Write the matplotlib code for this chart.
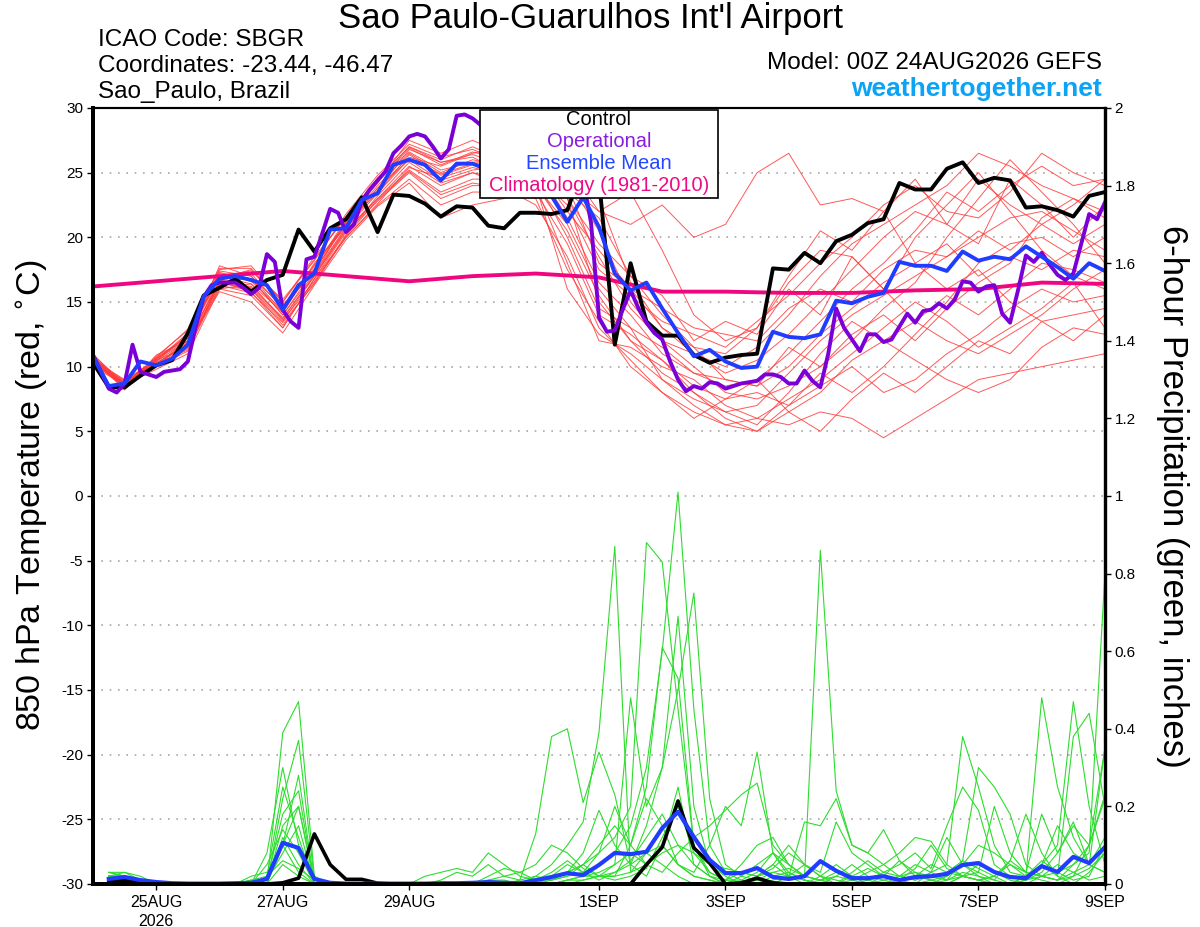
import numpy as np
import pandas as pd
import matplotlib
matplotlib.use('Agg')
import matplotlib.pyplot as plt
from matplotlib.patches import Rectangle

plt.rcParams['font.family'] = ['Liberation Sans', 'DejaVu Sans']
plt.rcParams['axes.unicode_minus'] = False

# ---- time axes (model run 00Z 24AUG2026) ----
t6 = pd.date_range('2026-08-24 00:00', '2026-09-09 00:00', freq='6h')    # 65 pts
t3 = pd.date_range('2026-08-24 00:00', '2026-09-09 00:00', freq='3h')    # 129 pts
t12 = pd.date_range('2026-08-24 00:00', '2026-09-09 00:00', freq='12h')  # 33 pts
t24 = pd.date_range('2026-08-24 00:00', '2026-09-09 00:00', freq='24h')  # 17 pts
tp = t6[1:]                                                              # 6-h precip, 64 pts

tick_days = ['2026-08-25', '2026-08-27', '2026-08-29', '2026-09-01',
             '2026-09-03', '2026-09-05', '2026-09-07', '2026-09-09']
tick_labels = ['25AUG\n2026', '27AUG', '29AUG', '1SEP', '3SEP', '5SEP', '7SEP', '9SEP']

# ---- 850 hPa temperature (C) ----
control_t = [10.3, 8.4, 8.4, 9.3, 10.1, 10.5, 12.6, 15.5, 16.1, 16.8, 15.8, 16.7, 17.1,
             20.6, 18.9, 20.7, 21.4, 23.1, 20.4, 23.3, 23.2, 22.6, 21.6, 22.4, 22.3,
             20.9, 20.7, 21.9, 21.9, 21.8, 22.1, 25.5, 24.5, 11.7, 18.0, 13.5, 12.4,
             12.4, 10.9, 10.3, 10.7, 10.9, 11.0, 17.6, 17.5, 18.8, 18.0, 19.7, 20.2,
             21.1, 21.4, 24.2, 23.7, 23.7, 25.3, 25.8, 24.2, 24.6, 24.4, 22.3, 22.4,
             22.1, 21.6, 23.2, 23.5]

mean_t = [10.8, 8.5, 8.7, 10.4, 10.1, 10.6, 11.7, 15.4, 16.8, 17.0, 16.7, 16.3, 14.4,
          16.3, 17.2, 20.6, 20.7, 22.9, 23.4, 25.6, 26.0, 25.6, 24.4, 25.7, 25.7,
          25.2, 24.8, 24.5, 24.2, 23.2, 21.2, 23.1, 20.8, 17.2, 15.9, 16.5, 14.5,
          12.6, 10.8, 11.3, 10.4, 9.9, 10.0, 12.7, 12.3, 12.2, 12.5, 15.1, 14.9,
          15.4, 15.7, 18.1, 17.8, 17.8, 17.4, 18.9, 18.2, 18.5, 18.3, 19.3, 18.5,
          17.7, 16.8, 18.0, 17.4]

oper_t = [10.9, 9.6, 8.3, 8.0, 8.7, 11.7, 9.6, 9.4, 9.2, 9.6, 9.7, 9.8, 10.4, 13.1,
          15.4, 16.3, 16.5, 16.5, 16.5, 16.1, 15.6, 16.1, 18.7, 18.1, 14.4, 13.5, 13.0,
          18.3, 18.5, 20.3, 22.2, 21.9, 20.4, 21.0, 22.8, 23.7, 24.4, 25.1, 26.5, 27.1,
          27.8, 28.0, 27.8, 27.0, 26.1, 26.8, 29.4, 29.5, 29.2, 28.7, 28.5, 28.0, 27.5,
          27.5, 27.0, 26.5, 26.5, 26.0, 25.5, 25.0, 25.0, 24.8, 24.5, 21.1, 13.8, 12.7,
          12.8, 14.4, 15.9, 14.5, 13.4, 12.6, 12.1, 10.4, 9.0, 8.1, 8.5, 8.3, 8.8, 8.7,
          8.3, 8.5, 8.7, 8.8, 8.9, 9.4, 9.4, 9.2, 8.7, 8.7, 9.7, 8.9, 8.4, 11.0, 14.5,
          13.0, 12.1, 11.2, 12.5, 12.5, 11.9, 12.1, 13.1, 14.1, 13.4, 14.3, 14.4, 14.9,
          14.5, 15.2, 16.6, 16.5, 15.8, 16.2, 16.3, 14.1, 13.4, 15.9, 18.6, 18.1, 18.8,
          17.9, 17.1, 16.7, 17.2, 19.5, 21.8, 21.4, 22.7]

clim_t = [16.2, 16.6, 17.0, 17.4, 17.0, 16.6, 17.0, 17.2, 16.9, 15.8, 15.8, 15.7,
          15.7, 15.9, 16.0, 16.5, 16.4]

# ensemble members, 12-hourly
t_mem01 = [10.8, 8.5, 10.5, 11.5, 17.0, 17.2, 14.5, 17.8, 21.0, 24.0, 26.5, 25.0, 26.0, 25.5, 24.0, 16.0,
           12.5, 11.0, 9.0, 7.5, 6.5, 7.0, 9.5, 12.0, 14.0, 15.5, 17.0, 18.5, 20.0, 21.5, 22.0, 20.5, 19.0]
t_mem02 = [10.2, 8.8, 10.0, 12.2, 16.5, 16.0, 13.5, 17.0, 20.5, 23.0, 25.5, 24.0, 25.0, 24.5, 25.0, 23.0,
           15.0, 12.0, 10.5, 8.0, 6.0, 5.0, 6.5, 8.0, 10.5, 12.0, 13.5, 15.5, 14.0, 16.0, 18.0, 17.5, 16.5]
t_mem03 = [11.0, 8.4, 10.8, 12.8, 17.5, 17.8, 15.0, 18.5, 21.5, 24.5, 27.0, 26.0, 27.0, 26.0, 25.5, 22.0,
           19.0, 16.0, 13.0, 11.0, 10.0, 11.5, 14.0, 17.0, 19.5, 21.0, 22.5, 24.0, 26.5, 25.5, 24.0, 23.0, 22.0]
t_mem04 = [10.0, 8.6, 9.8, 11.0, 16.0, 15.5, 13.0, 16.8, 20.0, 22.5, 24.5, 22.5, 23.5, 23.5, 23.0, 17.5,
           13.5, 10.0, 8.0, 6.5, 5.5, 6.0, 5.5, 6.5, 6.0, 4.5, 6.0, 7.5, 9.0, 9.5, 10.0, 10.5, 11.0]
t_mem05 = [10.6, 8.9, 10.6, 12.0, 17.2, 16.8, 14.0, 17.5, 21.0, 23.8, 26.2, 25.5, 26.5, 27.0, 26.0, 25.5,
           22.0, 21.0, 22.5, 20.0, 21.0, 25.0, 26.5, 22.5, 23.0, 22.0, 18.0, 16.0, 17.5, 15.0, 13.5, 14.0, 14.5]
t_mem06 = [10.4, 8.3, 10.2, 11.3, 16.2, 16.0, 13.2, 16.5, 20.2, 23.2, 25.8, 24.2, 25.0, 24.0, 24.5, 20.0,
           14.5, 13.0, 11.5, 9.5, 8.5, 9.0, 11.0, 13.5, 16.0, 18.0, 20.5, 23.5, 22.0, 24.0, 25.5, 24.0, 24.5]
t_mem07 = [10.9, 8.7, 10.4, 12.5, 16.8, 17.5, 14.8, 17.2, 21.2, 24.2, 27.5, 26.5, 27.5, 26.5, 26.0, 24.5,
           20.5, 15.0, 12.0, 10.0, 8.0, 7.5, 8.5, 10.0, 12.0, 14.5, 16.5, 20.0, 23.0, 26.0, 23.5, 21.0, 18.0]
t_mem08 = [10.3, 8.5, 10.1, 11.8, 15.8, 15.0, 12.6, 16.3, 19.8, 22.4, 24.2, 21.5, 22.5, 23.0, 24.0, 18.0,
           12.0, 11.5, 10.0, 9.0, 7.0, 6.0, 7.5, 9.0, 11.0, 13.0, 15.0, 13.5, 11.5, 13.0, 14.5, 16.5, 13.0]
t_mem09 = [10.7, 8.2, 10.9, 12.0, 17.8, 17.0, 14.2, 18.0, 20.8, 23.6, 26.8, 25.8, 26.2, 25.0, 25.5, 24.0,
           18.0, 16.0, 14.5, 13.0, 12.5, 12.0, 14.5, 16.0, 15.0, 17.5, 19.0, 18.5, 20.5, 19.0, 21.0, 22.5, 24.5]
t_mem10 = [10.5, 9.0, 10.3, 11.6, 16.4, 16.2, 13.8, 17.0, 20.6, 23.0, 25.2, 23.5, 24.5, 24.5, 24.0, 21.0,
           16.0, 13.0, 9.0, 7.0, 5.5, 5.0, 7.0, 9.5, 8.0, 10.0, 12.5, 15.0, 18.0, 19.5, 20.0, 18.5, 20.0]
t_mem11 = [10.1, 8.7, 10.7, 12.3, 17.3, 16.6, 14.4, 17.6, 21.4, 24.6, 26.6, 25.2, 25.8, 26.0, 25.0, 23.5,
           21.5, 17.0, 14.0, 11.5, 11.0, 13.0, 16.5, 19.0, 18.5, 16.0, 13.5, 12.0, 11.0, 12.5, 14.0, 16.0, 17.5]
t_mem12 = [10.6, 8.4, 10.0, 11.2, 16.6, 15.8, 13.0, 16.8, 20.4, 22.8, 25.0, 23.0, 24.0, 24.0, 23.5, 19.5,
           14.0, 12.5, 10.5, 8.5, 7.5, 8.0, 7.0, 8.5, 10.0, 8.0, 9.0, 11.0, 12.5, 14.5, 16.0, 15.0, 15.5]
t_mem13 = [10.8, 8.6, 10.5, 12.6, 17.0, 17.4, 15.2, 18.2, 21.8, 24.8, 27.2, 26.2, 26.8, 25.8, 25.0, 23.0,
           18.5, 14.5, 12.0, 11.0, 9.5, 10.5, 12.5, 15.0, 17.5, 20.0, 22.0, 21.0, 24.5, 22.5, 21.0, 19.5, 21.0]
t_mem14 = [10.2, 8.8, 10.2, 11.9, 16.0, 16.4, 13.6, 16.6, 20.0, 22.6, 25.4, 24.6, 25.4, 24.8, 24.0, 20.5,
           15.5, 12.0, 9.5, 8.0, 6.5, 5.5, 8.0, 11.0, 13.5, 12.0, 10.5, 9.0, 8.0, 9.0, 11.5, 13.0, 12.5]
t_mem15 = [10.4, 8.5, 10.6, 12.2, 17.4, 17.0, 14.6, 17.4, 21.2, 23.4, 26.4, 24.8, 25.6, 25.2, 24.8, 22.5,
           17.5, 15.5, 13.5, 12.5, 11.5, 13.5, 15.5, 18.0, 20.0, 22.5, 24.0, 22.0, 21.5, 23.5, 26.5, 25.0, 24.0]
t_mem16 = [10.6, 8.6, 10.4, 12.0, 16.6, 16.8, 14.0, 17.2, 20.8, 23.8, 26.0, 24.4, 25.2, 25.5, 25.5, 21.5,
           16.5, 14.0, 11.0, 9.5, 9.0, 8.5, 10.0, 12.5, 14.5, 16.5, 18.0, 19.5, 17.0, 18.5, 17.5, 19.0, 18.5]
t_mem17 = [10.4, 8.7, 10.6, 12.4, 17.0, 16.4, 14.2, 17.9, 21.1, 24.3, 26.9, 25.6, 26.6, 26.0, 25.5, 24.0,
           22.0, 23.5, 19.0, 14.0, 12.0, 13.0, 17.0, 20.5, 19.0, 22.0, 24.5, 21.0, 19.5, 24.5, 22.5, 20.0, 22.5]
t_mem18 = [10.7, 8.4, 10.3, 11.7, 16.3, 15.7, 13.4, 16.4, 20.1, 22.9, 25.1, 23.3, 24.2, 23.8, 22.5, 18.5,
           13.0, 10.5, 8.0, 6.0, 7.5, 9.0, 6.5, 5.0, 7.5, 9.5, 8.0, 10.0, 12.0, 11.0, 13.5, 12.0, 14.0]
t_mem19 = [10.5, 8.6, 10.7, 12.9, 17.6, 17.6, 15.0, 18.3, 21.6, 24.5, 27.0, 25.8, 26.4, 25.6, 25.0, 23.0,
           19.5, 17.0, 15.5, 12.0, 13.5, 12.5, 16.0, 14.0, 18.5, 16.0, 20.0, 22.5, 25.0, 22.0, 19.0, 17.0, 16.0]
t_mem20 = [10.3, 8.9, 10.2, 11.4, 16.7, 16.1, 13.7, 17.1, 20.7, 23.4, 26.1, 24.9, 25.7, 25.9, 26.0, 25.0,
           23.0, 16.5, 13.0, 11.5, 9.0, 8.5, 11.5, 10.0, 12.5, 14.0, 12.0, 14.5, 16.5, 18.0, 21.5, 23.0, 21.5]
t_members = [t_mem01, t_mem02, t_mem03, t_mem04, t_mem05, t_mem06, t_mem07, t_mem08, t_mem09, t_mem10,
             t_mem11, t_mem12, t_mem13, t_mem14, t_mem15, t_mem16, t_mem17, t_mem18, t_mem19, t_mem20]

# ---- 6-hour precipitation (inches) ----
control_p = [.005, .01, .003, 0, 0, 0, 0, 0, 0, 0, 0, .003, .015, .129, .05, .012,
             .012, .002, 0, 0, 0, 0, 0, 0, 0, 0, 0, 0, 0, 0, 0, 0,
             0, 0, .05, .095, .214, .093, .054, 0, .003, .015, .003, 0, 0, 0, 0, 0,
             0, 0, 0, 0, 0, 0, 0, 0, 0, 0, 0, 0, 0, 0, 0, 0]
mean_p = [.013, .018, .01, .005, .002, .001, .001, .001, .002, .003, .013, .106, .093, .013, .003, .001,
          .001, .001, .001, .001, .001, .002, .002, .003, .005, .003, .002, .01, .018, .028, .023, .049,
          .08, .077, .083, .144, .186, .121, .062, .028, .028, .041, .018, .013, .02, .059, .034, .015,
          .015, .02, .01, .018, .02, .026, .049, .054, .031, .018, .015, .046, .031, .07, .054, .095]

p_mem01 = [.03, .02, .01, 0, 0, 0, 0, 0, 0, .01, 0, .39, .47, .02, 0, 0,
           0, 0, 0, 0, 0, .01, .03, .02, .05, .02, .01, .13, .38, .40, .21, .34,
           .23, .05, .02, .10, .05, .02, .01, 0, 0, .02, .05, .02, 0, .01, .03, .02,
           0, 0, .02, .05, .03, .01, .06, .04, .02, 0, .01, .05, .02, 0, .03, .08]
p_mem02 = [.02, .03, .01, 0, 0, 0, 0, 0, 0, 0, .02, .25, .12, 0, 0, 0,
           0, 0, 0, 0, 0, 0, 0, 0, 0, 0, .01, .02, .05, .10, .16, .39,
           .87, .03, .08, .05, .02, 0, 0, .01, .03, .02, 0, 0, 0, .02, .05, .02,
           .01, 0, 0, 0, .03, .12, .05, .02, 0, 0, .02, .06, .03, .01, .02, .10]
p_mem03 = [.02, .02, 0, 0, 0, 0, 0, 0, 0, 0, 0, .22, .37, .01, 0, 0,
           0, 0, 0, 0, 0, 0, 0, 0, 0, 0, 0, .01, .03, .06, .03, .08,
           .12, .20, .88, .83, .45, .10, .02, 0, .02, .05, .08, .03, .01, 0, .02, .01,
           0, .02, .06, .03, .01, 0, .02, .05, .03, .01, 0, .02, .05, .03, .01, .02]
p_mem04 = [.02, .01, 0, 0, 0, 0, 0, 0, 0, 0, .01, .18, .24, 0, 0, 0,
           0, 0, 0, 0, 0, 0, 0, 0, 0, 0, 0, 0, .01, .02, .03, .05,
           .08, .15, .30, .60, 1.01, .45, .10, .03, .01, 0, .02, .03, .01, 0, 0, 0,
           .01, .03, .05, .08, .04, .15, .25, .19, .05, .02, .01, .03, .08, .15, .10, .22]
p_mem05 = [.01, .02, .01, 0, 0, 0, 0, 0, 0, 0, .05, .14, .08, 0, 0, 0,
           0, 0, 0, 0, 0, 0, 0, 0, .01, .02, .03, .05, .10, .08, .04, .02,
           .05, .48, .20, .30, .50, .75, .22, .05, .02, .01, 0, .02, .05, .02, .01, 0,
           0, 0, .01, .02, .05, .03, .02, .01, .02, .05, .03, .02, .01, .05, .10, .35]
p_mem06 = [.02, .02, 0, 0, 0, 0, 0, 0, 0, 0, .08, .30, .10, 0, 0, 0,
           0, 0, 0, 0, 0, 0, 0, 0, 0, 0, 0, 0, .02, .03, .08, .19,
           .10, .05, .15, .30, .69, .20, .05, .02, 0, .02, .05, .10, .05, .02, 0, .01,
           .03, .05, .02, .01, .03, .05, .38, .25, .10, .03, .02, .05, .15, .08, .05, .03]
p_mem07 = [.03, .02, .01, 0, 0, 0, 0, 0, 0, .02, .03, .10, .20, 0, 0, 0,
           0, 0, 0, 0, 0, 0, 0, 0, 0, 0, 0, .01, .01, .02, .05, .10,
           .15, .10, .25, .61, .53, .10, .03, .01, 0, 0, .01, .02, .01, 0, 0, .02,
           .04, .02, .01, 0, 0, .02, .05, .03, .01, 0, .02, .48, .25, .12, .05, .03]
p_mem08 = [.02, .01, 0, 0, 0, 0, 0, 0, 0, 0, 0, .15, .20, .01, 0, 0,
           0, 0, 0, 0, 0, 0, 0, 0, 0, 0, 0, 0, 0, .01, .02, .03,
           .05, .08, .05, .03, .08, .12, .15, .19, .23, .26, .10, .05, .02, .86, .24, .10,
           .08, .14, .06, .02, .01, 0, .02, .01, 0, 0, .02, .05, .10, .47, .20, .05]
p_mem09 = [.02, .02, .01, 0, 0, 0, 0, 0, 0, 0, .01, .10, .28, 0, 0, 0,
           0, 0, 0, 0, 0, 0, 0, 0, 0, 0, 0, 0, 0, .01, .02, .02,
           .02, .10, .22, .15, .05, .03, .10, .20, .15, .34, .08, .02, .16, .15, .22, .10,
           .08, .05, .08, .12, .11, .05, .02, .01, .02, .06, .18, .08, .02, .38, .44, .20]
p_mem10 = [.02, .01, 0, 0, 0, 0, 0, 0, 0, 0, .01, .08, .15, 0, 0, 0,
           0, 0, 0, 0, 0, 0, 0, 0, .02, .04, .03, .01, .02, .05, .03, .01,
           .03, .05, .08, .10, .05, .02, .01, 0, 0, .02, .04, .08, .05, .03, .16, .08,
           .05, .02, .01, .04, .10, .04, .02, .03, .20, .08, .03, .18, .08, .16, .05, .35]
p_mem11 = [.03, .03, .02, 0, 0, 0, 0, 0, 0, 0, 0, .12, .05, 0, 0, 0,
           0, 0, 0, 0, 0, 0, 0, 0, .01, .01, 0, .02, .01, .03, .05, .08,
           .20, .10, .05, .10, .25, .05, .02, 0, 0, .01, .03, .02, .01, 0, 0, .03,
           .06, .03, .02, .01, .02, .03, .06, .30, .25, .18, .05, .02, .01, .02, .04, .08]
p_mem12 = [.02, .02, .01, 0, 0, 0, 0, 0, 0, .01, .02, .06, .04, .01, 0, 0,
           0, 0, 0, 0, .02, .03, .04, .03, .08, .05, .02, .01, 0, 0, .01, .02,
           .02, .03, .05, .08, .10, .08, .05, .04, .03, .02, .03, .04, .02, .01, 0, 0,
           0, .01, .02, .03, .02, .01, .03, .02, .01, .06, .03, .02, .01, .03, .05, .12]
p_mem13 = [.01, .01, 0, 0, 0, 0, 0, 0, 0, 0, 0, .05, .02, 0, 0, 0,
           0, 0, 0, 0, 0, 0, 0, 0, 0, 0, 0, 0, 0, .01, .01, .02,
           .01, .02, .04, .12, .20, .08, .03, .01, .01, .03, .08, .05, .02, .01, 0, 0,
           0, 0, 0, 0, 0, .01, .02, .01, 0, 0, .01, .02, .03, .05, .08, .80]
p_mem14 = [.02, .01, 0, 0, 0, 0, 0, 0, 0, 0, 0, .10, .03, 0, 0, 0,
           0, 0, 0, 0, 0, 0, 0, 0, 0, 0, 0, 0, .02, .03, .05, .02,
           .03, .06, .12, .18, .10, .05, .02, .01, .05, .10, .12, .05, .02, .01, .02, .05,
           .02, .01, 0, 0, .01, .02, .05, .10, .08, .05, .02, .01, 0, .02, .10, .23]
p_members = [p_mem01, p_mem02, p_mem03, p_mem04, p_mem05, p_mem06, p_mem07,
             p_mem08, p_mem09, p_mem10, p_mem11, p_mem12, p_mem13, p_mem14]

# ---- figure ----
fig = plt.figure(figsize=(12, 9.27), dpi=100)
ax = fig.add_axes([0.0775, 0.0464, 0.8433, 0.8371])
ax2 = ax.twinx()

for m in t_members:
    ax.plot(t12, m, color='#ff3b3b', lw=0.7, alpha=0.85, zorder=2)
ax.plot(t24, clim_t, color='#f0077f', lw=2.8, zorder=3)
ax.plot(t6, control_t, color='black', lw=2.8, zorder=4)
ax.plot(t3, oper_t, color='#7b00d8', lw=2.8, zorder=5)
ax.plot(t6, mean_t, color='#1f3cff', lw=2.8, zorder=6)

for m in p_members:
    ax2.plot(tp, m, color='#2edc2e', lw=0.8)
ax2.plot(tp, control_p, color='black', lw=2.6)
ax2.plot(tp, mean_p, color='#1f3cff', lw=3.0)

ax.set_xlim(pd.Timestamp('2026-08-24'), pd.Timestamp('2026-09-09'))
ax.set_ylim(-30, 30)
ax2.set_ylim(0, 2)
ax.set_yticks(range(-30, 31, 5))
ax2.set_yticks(np.arange(0, 2.01, 0.2))
ax2.set_yticklabels(['%g' % v for v in np.arange(0, 2.01, 0.2)])
ax.set_xticks(pd.to_datetime(tick_days))
ax.set_xticklabels(tick_labels, fontsize=11.5, linespacing=1.3)
ax.tick_params(axis='y', labelsize=11, length=4, width=1, direction='out', pad=3)
ax2.tick_params(axis='y', labelsize=11, length=4, width=1, direction='out', pad=3)
ax.tick_params(axis='x', length=4, width=1, direction='out', pad=4)

ax.grid(axis='y', ls=(0, (1, 4)), color='#a8a8a8', lw=1.2)
ax.set_axisbelow(True)

for a in (ax, ax2):
    for side in ('left', 'bottom'):
        a.spines[side].set_linewidth(2.8)
    a.spines['right'].set_linewidth(2.3)
    a.spines['top'].set_linewidth(1.5)

# legend box (text only, coloured)
ax2.add_patch(Rectangle((0.382, 0.884), 0.236, 0.113, transform=ax2.transAxes,
                        facecolor='white', edgecolor='black', lw=1.2, zorder=10))
leg_items = [('Control', 'black'), ('Operational', '#8a1be0'),
             ('Ensemble Mean', '#2346ff'), ('Climatology (1981-2010)', '#ee0a86')]
for n, (txt, col) in enumerate(leg_items):
    ax2.text(0.5, 0.985 - n * 0.0283, txt, color=col, fontsize=14.5,
             ha='center', va='center', transform=ax2.transAxes, zorder=11)

# header texts
fig.text(0.492, 0.980, "Sao Paulo-Guarulhos Int'l Airport", fontsize=25, ha='center', va='center')
fig.text(0.0817, 0.957, 'ICAO Code: SBGR', fontsize=17.5, ha='left', va='center')
fig.text(0.0817, 0.929, 'Coordinates: -23.44, -46.47', fontsize=17.5, ha='left', va='center')
fig.text(0.0817, 0.901, 'Sao_Paulo, Brazil', fontsize=17.5, ha='left', va='center')
fig.text(0.918, 0.932, 'Model: 00Z 24AUG2026 GEFS', fontsize=17.5, ha='right', va='center')
fig.text(0.918, 0.904, 'weathertogether.net', fontsize=19, fontweight='bold',
         color='#0aa3f5', ha='right', va='center')

fig.text(0.0275, 0.466, r'850 hPa Temperature (red, $^{\circ}$C)', fontsize=24.5,
         rotation=90, ha='center', va='center')
fig.text(0.977, 0.464, '6-hour Precipitation (green, inches)', fontsize=25,
         rotation=270, ha='center', va='center')

fig.savefig('out.png', dpi=100)
